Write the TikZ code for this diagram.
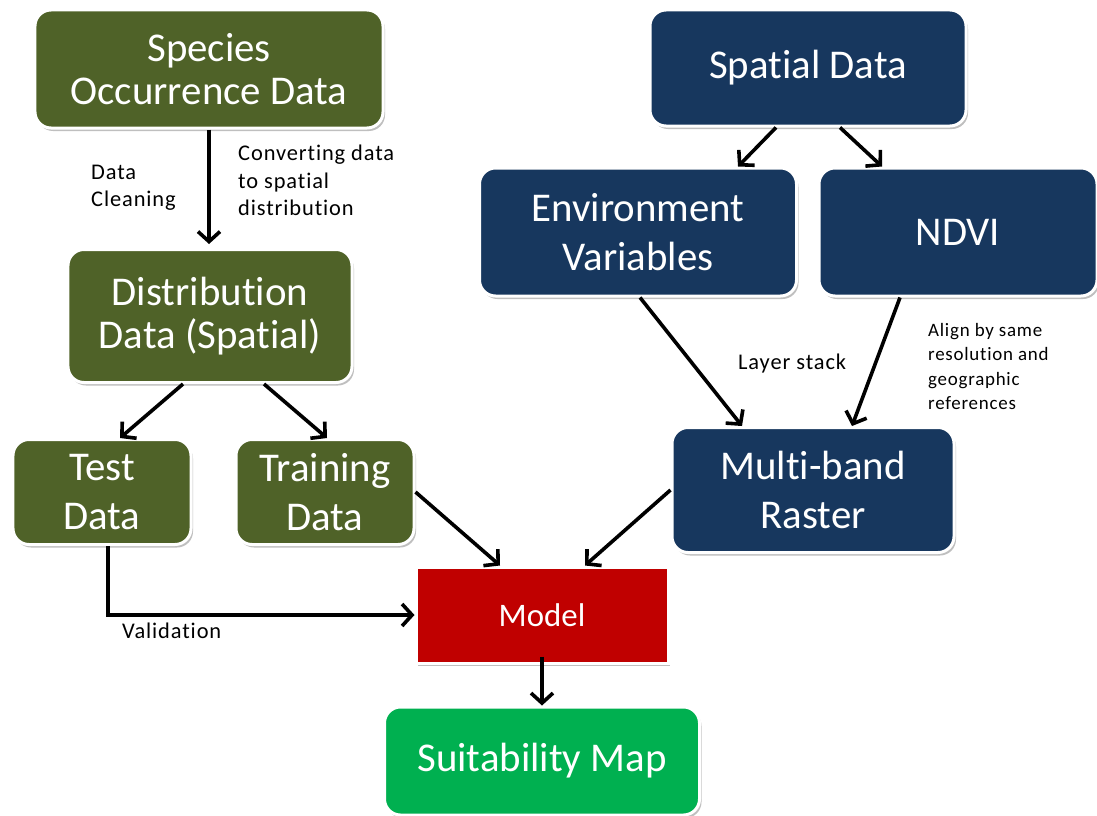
\documentclass[tikz,border=0pt]{standalone}
\usepackage{fontspec}
\setmainfont{Carlito}[Ligatures={NoCommon}]
\newfontfamily\lblfont{Carlito}[Ligatures={NoCommon}, LetterSpace=4]
\usetikzlibrary{arrows.meta,shadows}
\definecolor{olive}{HTML}{4F6228}
\definecolor{navy}{HTML}{17375E}
\definecolor{modelred}{HTML}{C00000}
\definecolor{mapgreen}{HTML}{00B050}
\tikzset{
  box/.style={draw=white, line width=3bp, rounded corners=16bp, text=white, align=center,
    font=\fontsize{41}{49}\selectfont, inner sep=0pt,
    drop shadow={shadow xshift=2bp, shadow yshift=-3bp, fill=black, opacity=0.25}},
  tight/.style={font=\fontsize{41}{43}\selectfont},
  greenbox/.style={box, fill=olive},
  bluebox/.style={box, fill=navy},
  arr/.style={line width=3.6bp, -{Straight Barb[length=10bp, width=22bp, line width=3.6bp]}},
  lbl/.style={align=left, inner sep=0pt, font=\lblfont\fontsize{22.5}{27.5}\selectfont, anchor=north west},
}
\begin{document}
\begin{tikzpicture}[x=1bp, y=-1bp]
\useasboundingbox (0,0) rectangle (1097,816);
% left column
\node[greenbox, tight, minimum width=348bp, minimum height=118bp] (species) at (209,69) {Species\\Occurrence Data};
\node[greenbox, tight, minimum width=284bp, minimum height=133bp] (dist) at (210,316) {Distribution\\Data (Spatial)};
\node[greenbox, minimum width=178bp, minimum height=105bp] (test) at (102,492) {Test\\Data};
\node[greenbox, minimum width=178bp, minimum height=105bp] (train) at (325,492) {Training\\Data};
% right column
\node[bluebox, minimum width=316bp, minimum height=116bp] (spatial) at (808,68) {Spatial Data};
\node[bluebox, minimum width=317bp, minimum height=128bp] (env) at (638,232) {Environment\\Variables};
\node[bluebox, minimum width=278bp, minimum height=128bp] (ndvi) at (958,232) {NDVI};
\node[bluebox, minimum width=282bp, minimum height=125bp] (raster) at (813,490) {Multi-band\\Raster};
% model and map
\node[box, fill=modelred, rounded corners=0pt, minimum width=252bp, minimum height=96bp,
  font=\fontsize{33}{38}\selectfont] (model) at (542,615) {Model};
\node[box, fill=mapgreen, minimum width=315bp, minimum height=108bp] (map) at (542,761) {Suitability Map};

% connectors
\draw[arr] (species.south) -- ([yshift=4bp]species.south |- dist.north);
\draw[arr] ([xshift=-27bp]dist.south) -- ([xshift=18bp]test.north);
\draw[arr] ([xshift=54bp]dist.south) -- ([xshift=2bp]train.north);
\draw[arr] (train.east) -- ([xshift=-42bp]model.north);
\draw[arr] (raster.west) -- ([xshift=43bp]model.north);
\draw[arr] ([xshift=6bp]test.south) |- (model.west);
\draw[arr] ([yshift=8bp]model.south) -- (map.north);
\draw[arr] ([xshift=-32bp]spatial.south) -- ([xshift=100bp]env.north);
\draw[arr] ([xshift=32bp]spatial.south) -- ([xshift=-76bp]ndvi.north);
\draw[arr] ([xshift=2bp]env.south) -- ([xshift=-71bp]raster.north);
\draw[arr] ([xshift=-58bp]ndvi.south) -- ([xshift=39bp]raster.north);

% labels
\node[lbl] (l1) at (91,165) {Data\\Cleaning};
\node[lbl] (l2) at (238,145) {Converting data\\to spatial\\distribution};
\node[lbl] (l3) at (738,354) {Layer stack};
\node[lbl, font=\lblfont\fontsize{19}{24.5}\selectfont] (l4) at (928,323) {Align by same\\resolution and\\geographic\\references};
\node[lbl] (l5) at (122,623) {Validation};
\end{tikzpicture}
\end{document}
